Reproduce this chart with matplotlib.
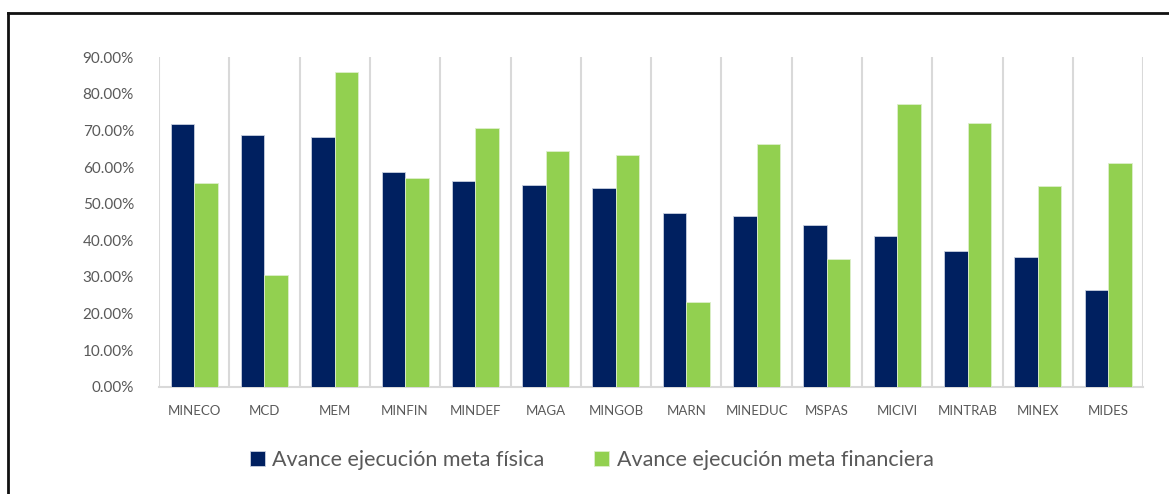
import matplotlib.pyplot as plt
from matplotlib.lines import Line2D
from matplotlib.ticker import PercentFormatter
import numpy as np

# datos
entidades = ["MINECO", "MCD", "MEM", "MINFIN", "MINDEF", "MAGA", "MINGOB",
             "MARN", "MINEDUC", "MSPAS", "MICIVI", "MINTRAB", "MINEX", "MIDES"]
meta_fisica = [71.8, 68.7, 68.1, 58.7, 56.2, 55.0, 54.2,
               47.6, 46.7, 44.1, 41.1, 37.0, 35.4, 26.4]
meta_financiera = [55.6, 30.6, 85.9, 57.1, 70.6, 64.4, 63.3,
                   23.1, 66.4, 34.9, 77.3, 72.1, 54.8, 61.2]
series = ["Avance ejecución meta física", "Avance ejecución meta financiera"]

azul = "#002060"
verde = "#92D050"
gris = "#595959"

plt.rcParams["font.family"] = ["Lato", "DejaVu Sans"]

fig = plt.figure(figsize=(11.69, 4.94), dpi=100)
ax = fig.add_axes([0.136, 0.217, 0.842, 0.667])

x = np.arange(len(entidades))
ancho = 0.334
ax.bar(x - ancho / 2, np.array(meta_fisica) / 100, ancho, color=azul,
       edgecolor="#C9D0E0", linewidth=0.6, label=series[0], zorder=3)
ax.bar(x + ancho / 2, np.array(meta_financiera) / 100, ancho, color=verde,
       edgecolor="#DDEFCB", linewidth=0.6, label=series[1], zorder=3)

ax.set_xlim(-0.5, len(entidades) - 0.5)
ax.set_ylim(0, 0.9)
ax.set_yticks(np.arange(0, 0.91, 0.1))
ax.yaxis.set_major_formatter(PercentFormatter(1.0, decimals=2))

# lineas verticales entre categorias
for b in np.arange(-0.5, len(entidades), 1.0):
    ax.axvline(b, color="#D9D9D9", linewidth=1.5, zorder=1)

ax.set_xticks(x)
ax.set_xticklabels(entidades)
for s in ["top", "right", "left"]:
    ax.spines[s].set_visible(False)
ax.spines["bottom"].set_color("#D9D9D9")
ax.spines["bottom"].set_linewidth(1.5)
ax.tick_params(axis="y", length=0, pad=18, labelsize=11, labelcolor=gris)
ax.tick_params(axis="x", length=0, pad=13, labelsize=9.5, labelcolor=gris)

leg = fig.legend(loc="center", bbox_to_anchor=(0.506, 0.069), ncol=2,
                 frameon=False, fontsize=15.5, handlelength=0.7, handleheight=0.7,
                 handletextpad=0.35, columnspacing=2.3)
for t in leg.get_texts():
    t.set_color(gris)

# borde del cuadro
fig.add_artist(Line2D([8 / 1169, 1], [1 - 13 / 494, 1 - 13 / 494],
                      transform=fig.transFigure, color="#111111", linewidth=2))
fig.add_artist(Line2D([8 / 1169, 8 / 1169], [0, 1 - 13 / 494],
                      transform=fig.transFigure, color="#111111", linewidth=2))

fig.savefig("out.png", dpi=100)
